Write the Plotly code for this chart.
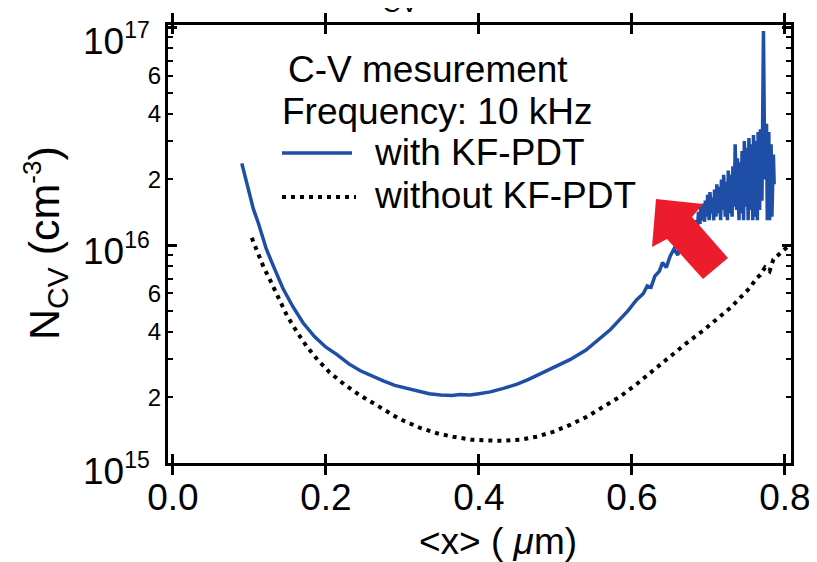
import math
import plotly.graph_objects as go

# ---------------- data ----------------
x_with = [0.090, 0.095, 0.100, 0.105, 0.112, 0.122, 0.132, 0.144, 0.157, 0.170,
          0.185, 0.200, 0.214, 0.230, 0.245, 0.258, 0.275, 0.290, 0.301, 0.320,
          0.335, 0.350, 0.365, 0.375, 0.388, 0.400, 0.415, 0.432, 0.450, 0.465,
          0.484, 0.500, 0.519, 0.540, 0.558, 0.572, 0.584, 0.595, 0.606, 0.615,
          0.620, 0.625, 0.630, 0.636, 0.640, 0.645, 0.650, 0.655, 0.660, 0.664,
          0.668, 0.671, 0.675, 0.678, 0.681,
          0.684, 0.686, 0.687, 0.689, 0.690, 0.692, 0.693, 0.695, 0.696, 0.698,
          0.699, 0.701, 0.702, 0.704, 0.705, 0.707, 0.708, 0.710, 0.711, 0.713,
          0.714, 0.716, 0.717, 0.719, 0.720, 0.722, 0.723, 0.725, 0.726, 0.728,
          0.729, 0.731, 0.732, 0.734, 0.735, 0.737, 0.738, 0.740, 0.741, 0.743,
          0.744, 0.746, 0.747, 0.749, 0.750, 0.752, 0.753, 0.755, 0.756, 0.758,
          0.759, 0.761, 0.762, 0.764, 0.765, 0.767, 0.768, 0.770, 0.771, 0.772,
          0.773, 0.774, 0.776, 0.777, 0.779, 0.780, 0.782, 0.783, 0.785, 0.786]
n_with = [2.37e16, 2.0e16, 1.72e16, 1.47e16, 1.25e16, 9.6e15, 7.9e15, 6.3e15, 5.2e15, 4.4e15,
          3.8e15, 3.4e15, 3.15e15, 2.85e15, 2.65e15, 2.52e15, 2.38e15, 2.27e15, 2.22e15, 2.13e15,
          2.08e15, 2.05e15, 2.04e15, 2.06e15, 2.05e15, 2.08e15, 2.12e15, 2.2e15, 2.3e15, 2.42e15,
          2.6e15, 2.75e15, 2.98e15, 3.3e15, 3.75e15, 4.1e15, 4.55e15, 5.0e15, 5.6e15, 6.0e15,
          6.5e15, 6.4e15, 7.2e15, 7.6e15, 8.3e15, 7.9e15, 8.9e15, 9.6e15, 9.0e15, 1.04e16,
          1.1e16, 1.0e16, 1.18e16, 1.25e16, 1.12e16,
          1.3e16, 1.22e16, 1.42e16, 1.25e16, 1.5e16, 1.3e16, 1.55e16, 1.28e16, 1.6e16, 1.35e16,
          1.7e16, 1.3e16, 1.75e16, 1.4e16, 1.65e16, 1.3e16, 1.8e16, 1.35e16, 1.9e16, 1.4e16,
          1.85e16, 1.3e16, 2.0e16, 1.45e16, 2.1e16, 1.35e16, 1.95e16, 1.3e16, 2.2e16, 1.4e16,
          2.1e16, 1.35e16, 2.3e16, 1.5e16, 2.9e16, 1.45e16, 2.5e16, 1.3e16, 2.4e16, 1.4e16,
          2.7e16, 1.3e16, 3.0e16, 1.5e16, 2.8e16, 1.3e16, 3.1e16, 1.45e16, 2.9e16, 1.3e16,
          3.2e16, 1.35e16, 3.0e16, 1.3e16, 3.3e16, 1.45e16, 3.4e16, 1.6e16, 5.5e16, 9.6e16,
          4.0e16, 2.0e16, 3.6e16, 1.3e16, 3.3e16, 1.3e16, 2.9e16, 1.35e16, 2.6e16, 1.9e16]

x_without = [0.103, 0.110, 0.118, 0.127, 0.138, 0.149, 0.162, 0.175, 0.190, 0.205,
             0.225, 0.244, 0.270, 0.295, 0.323, 0.345, 0.366, 0.390, 0.410, 0.430,
             0.454, 0.475, 0.497, 0.520, 0.541, 0.562, 0.584, 0.606, 0.628, 0.650,
             0.671, 0.693, 0.715, 0.730, 0.745, 0.755, 0.762, 0.768, 0.774, 0.780,
             0.785, 0.790, 0.795, 0.800, 0.806]
n_without = [1.08e16, 9.3e15, 8.0e15, 6.9e15, 5.7e15, 4.75e15, 4.0e15, 3.42e15, 2.95e15, 2.6e15,
             2.28e15, 2.05e15, 1.81e15, 1.6e15, 1.45e15, 1.37e15, 1.32e15, 1.28e15, 1.27e15, 1.265e15,
             1.28e15, 1.32e15, 1.39e15, 1.5e15, 1.63e15, 1.8e15, 2.01e15, 2.3e15, 2.67e15, 3.08e15,
             3.54e15, 4.05e15, 4.69e15, 5.2e15, 5.9e15, 6.4e15, 7.0e15, 7.3e15, 7.9e15, 7.6e15,
             8.6e15, 8.9e15, 9.2e15, 9.6e15, 1.0e16]

x_tickvals = [0.0, 0.2, 0.4, 0.6, 0.8]
x_ticktext = ["0.0", "0.2", "0.4", "0.6", "0.8"]
y_major_vals = [1e15, 1e16, 1e17]
y_major_text = ["10<sup><span style='font-size:23px'>15</span></sup>",
                "10<sup><span style='font-size:23px'>16</span></sup>",
                "10<sup><span style='font-size:23px'>17</span></sup>"]
y_sub_vals = [2e15, 4e15, 6e15, 2e16, 4e16, 6e16]
y_sub_text = ["2", "4", "6", "2", "4", "6"]
y_minor_vals = [3e15, 5e15, 7e15, 8e15, 9e15, 3e16, 5e16, 7e16, 8e16, 9e16]

series_names = ["with KF-PDT", "without KF-PDT"]

# ---------------- layout geometry ----------------
# (the page body has an 8px margin, so the figure is drawn 8px right/down)
OFF = 8
W, H = 817 - OFF, 562 - OFF
L, R, T, B = 168, 791, 25, 463          # plot frame in screenshot pixels
PW, PH = R - L, B - T


def P(px, py):
    return (px - L) / PW, (B - py) / PH


FONT = "Liberation Sans, Arial, Helvetica, sans-serif"
BLUE = "#1f4ea6"
RED = "#ec1c2c"

fig = go.Figure()
fig.add_trace(go.Scatter(x=x_with, y=n_with, mode="lines", name=series_names[0],
                         line=dict(color=BLUE, width=3.5), showlegend=False))
fig.add_trace(go.Scatter(x=x_without, y=n_without, mode="lines", name=series_names[1],
                         line=dict(color="black", width=4, dash="4px,5px"),
                         showlegend=False, yaxis="y2"))

axis_common = dict(showgrid=False, zeroline=False, showline=True, linecolor="black",
                   linewidth=3, ticks="inside", tickcolor="black", mirror="allticks",
                   automargin=False, ticklabeloverflow="allow")

fig.update_layout(
    width=W, height=H,
    margin=dict(l=L - OFF, r=W - (R - OFF), t=T - OFF, b=H - (B - OFF), pad=0,
                autoexpand=False),
    plot_bgcolor="white", paper_bgcolor="white",
    font=dict(family=FONT, color="black"),
    xaxis=dict(range=[-0.0065, 0.808], tickvals=x_tickvals, ticktext=x_ticktext,
               ticklen=9, tickwidth=2.5, tickfont=dict(size=37, family=FONT),
               **axis_common),
    yaxis=dict(type="log", range=[15, 17.01], tickvals=y_major_vals, ticktext=y_major_text,
               showticklabels=False,
               ticklen=9, tickwidth=2.5, tickfont=dict(size=37, family=FONT),
               minor=dict(tickvals=y_minor_vals, ticks="inside", ticklen=5,
                          tickwidth=2, tickcolor="black"),
               **axis_common),
    yaxis2=dict(type="log", range=[15, 17.01], overlaying="y", side="left",
                tickvals=y_sub_vals, ticktext=y_sub_text, ticks="inside", ticklen=5,
                tickwidth=2, tickcolor="black", tickfont=dict(size=24, family=FONT),
                showgrid=False, zeroline=False, showline=False, mirror="allticks",
                ticklabelstandoff=6, automargin=False, ticklabeloverflow="allow"),
)

ann = []
# legend-like text block
ann.append(dict(text="C-V mesurement", x=P(428, 70)[0], y=P(428, 70)[1]))
ann.append(dict(text="Frequency: 10 kHz", x=P(437, 111)[0], y=P(437, 111)[1]))
ann.append(dict(text=series_names[0], x=P(372, 152)[0], y=P(372, 152)[1], xanchor="left"))
ann.append(dict(text=series_names[1], x=P(372, 195)[0], y=P(372, 195)[1], xanchor="left"))
for a in ann:
    a.setdefault("xanchor", "center")
    a.update(xref="paper", yref="paper", yanchor="middle", showarrow=False,
             font=dict(size=37, family=FONT, color="black"))

# decade tick labels, placed on the y scale (nudged down like the reference)
label_shift = [-6, -4, -12]
for v, t, s in zip(y_major_vals, y_major_text, label_shift):
    ann.append(dict(text=t, x=P(152, 0)[0], xref="paper", y=math.log10(v), yref="y",
                    xanchor="right", yanchor="middle", yshift=s, showarrow=False,
                    font=dict(size=37, family=FONT, color="black")))

# axis titles
ann.append(dict(text="&lt;x&gt; ( <i>μ</i>m)", x=P(498, 541)[0], y=P(498, 541)[1],
                xref="paper", yref="paper", xanchor="center", yanchor="middle",
                showarrow=False, font=dict(size=37, family=FONT, color="black")))
ann.append(dict(text="N<sub><span style='font-size:30px'>CV</span></sub> (cm<sup><span style='font-size:26px'>-3</span></sup>)",
                x=P(45, 243)[0], y=P(45, 243)[1], textangle=-90,
                xref="paper", yref="paper", xanchor="center", yanchor="middle",
                showarrow=False, font=dict(size=43, family=FONT, color="black")))
# clipped fragment of a title at the very top
ann.append(dict(text="CV", x=P(400, 3)[0], y=P(400, 3)[1],
                xref="paper", yref="paper", xanchor="center", yanchor="middle",
                showarrow=False, font=dict(size=26, family=FONT, color="black")))
fig.update_layout(annotations=ann)

shapes = []
# legend keys
x0, yb = P(282, 153)
x1, _ = P(352, 153)
shapes.append(dict(type="line", xref="paper", yref="paper", x0=x0, x1=x1, y0=yb, y1=yb,
                   line=dict(color=BLUE, width=3.5)))
x0, yd = P(282, 197)
x1, _ = P(356, 197)
shapes.append(dict(type="line", xref="paper", yref="paper", x0=x0, x1=x1, y0=yd, y1=yd,
                   line=dict(color="black", width=4, dash="4px,5px")))
# red arrow
arrow_px = [(656, 199), (703, 204), (692, 217), (728, 258), (703, 279), (667, 239), (652, 247)]
pts = [P(px, py) for px, py in arrow_px]
path = "M " + " L ".join(f"{a:.4f},{b:.4f}" for a, b in pts) + " Z"
shapes.append(dict(type="path", xref="paper", yref="paper", path=path,
                   fillcolor=RED, line=dict(width=0), layer="above"))
fig.update_layout(shapes=shapes)

fig.write_html("out.html")
